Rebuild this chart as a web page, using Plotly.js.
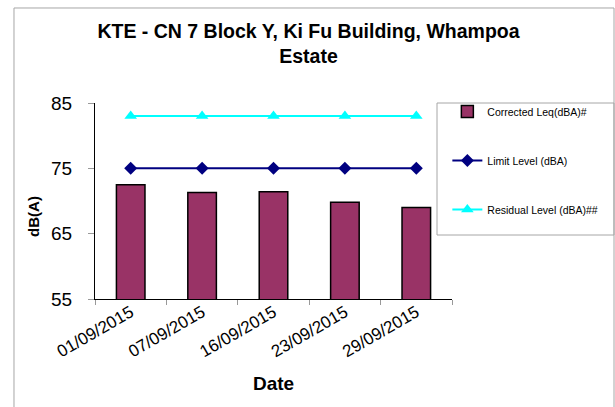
<!DOCTYPE html>
<html>
<head>
<meta charset="utf-8">
<script src="https://cdn.plot.ly/plotly-3.0.1.min.js"></script>
<style>
  html, body { margin: 0; padding: 0; background: #fff; }
  #chart { width: 615px; height: 407px; }
</style>
</head>
<body>
<div id="chart"></div>
<script>
const dates = ["01/09/2015", "07/09/2015", "16/09/2015", "23/09/2015", "29/09/2015"];
const correctedLeq = [72.5, 71.3, 71.4, 69.8, 69.0];
const limitLevel = [75, 75, 75, 75, 75];
const residualLevel = [83, 83, 83, 83, 83];
const seriesNames = ["Corrected Leq(dBA)#", "Limit Level (dBA)", "Residual Level (dBA)##"];
const yTicks = [55, 65, 75, 85];

const FONT = "Liberation Sans, Arial, sans-serif";

const traces = [
  {
    type: "bar", x: dates, y: correctedLeq, name: seriesNames[0],
    marker: { color: "#993366", line: { color: "#000000", width: 1.5 } },
    legendgroup: "a"
  },
  {
    type: "scatter", mode: "lines+markers", x: dates, y: limitLevel, name: seriesNames[1],
    line: { color: "#000080", width: 2 },
    marker: { symbol: "diamond", size: 10, color: "#000080" },
    legendgroup: "b"
  },
  {
    type: "scatter", mode: "lines+markers", x: dates, y: residualLevel, name: seriesNames[2],
    line: { color: "#00FFFF", width: 2 },
    marker: { symbol: "triangle-up", size: 11, color: "#00FFFF" },
    legendgroup: "c"
  }
];

const layout = {
  width: 615, height: 407,
  margin: { l: 95, r: 163, t: 103, b: 108 },
  paper_bgcolor: "#ffffff", plot_bgcolor: "#ffffff",
  font: { family: FONT, color: "#000000" },
  bargap: 0.6,
  showlegend: true,
  title: {
    text: "<b>KTE - CN 7 Block Y, Ki Fu Building, Whampoa<br>Estate</b>",
    font: { family: FONT, size: 19.5, color: "#000000" },
    x: 0.5016, xanchor: "center", xref: "container",
    y: 0.907, yanchor: "middle", yref: "container"
  },
  xaxis: {
    type: "category", range: [-0.5, 4.5],
    showline: true, linecolor: "#000000", linewidth: 1,
    ticks: "outside", tickson: "boundaries", ticklen: 5, tickcolor: "#999999",
    tickangle: -30, ticklabelstandoff: -4,
    tickfont: { family: FONT, size: 17, color: "#000000" },
    showgrid: false, zeroline: false,
    title: { text: "<b>Date</b>", font: { family: FONT, size: 19, color: "#000000" }, standoff: 16 }
  },
  yaxis: {
    range: [55, 85], tickvals: yTicks, ticktext: yTicks.map(String),
    showline: true, linecolor: "#000000", linewidth: 1,
    ticks: "outside", ticklen: 6, tickcolor: "#999999",
    ticklabelstandoff: 12,
    tickfont: { family: FONT, size: 19, color: "#000000" },
    showgrid: false, zeroline: false
  },
  legend: {
    x: 0.987, xanchor: "left", y: 1.03, yanchor: "top",
    bgcolor: "rgba(0,0,0,0)", borderwidth: 0,
    font: { family: FONT, size: 10.5, color: "#000000" },
    traceorder: "grouped", tracegroupgap: 30
  },
  annotations: [
    {
      text: "<b>dB(A)</b>", textangle: -90, showarrow: false,
      xref: "paper", yref: "paper", x: -0.173, y: 0.42,
      xanchor: "center", yanchor: "middle",
      font: { family: FONT, size: 15, color: "#000000" }
    }
  ],
  shapes: [
    { type: "rect", xref: "paper", yref: "paper", x0: -0.2269, x1: 1.4538, y0: -0.58, y1: 1.4847,
      line: { color: "#a6a6a6", width: 1 }, fillcolor: "rgba(0,0,0,0)", layer: "below" },
    { type: "rect", xref: "paper", yref: "paper", x0: 0.958, x1: 1.4538, y0: 0.3265, y1: 1.0,
      line: { color: "#a6a6a6", width: 1 }, fillcolor: "rgba(0,0,0,0)", layer: "below" }
  ]
};

Plotly.newPlot("chart", traces, layout, { displayModeBar: false, staticPlot: true });
</script>
</body>
</html>
